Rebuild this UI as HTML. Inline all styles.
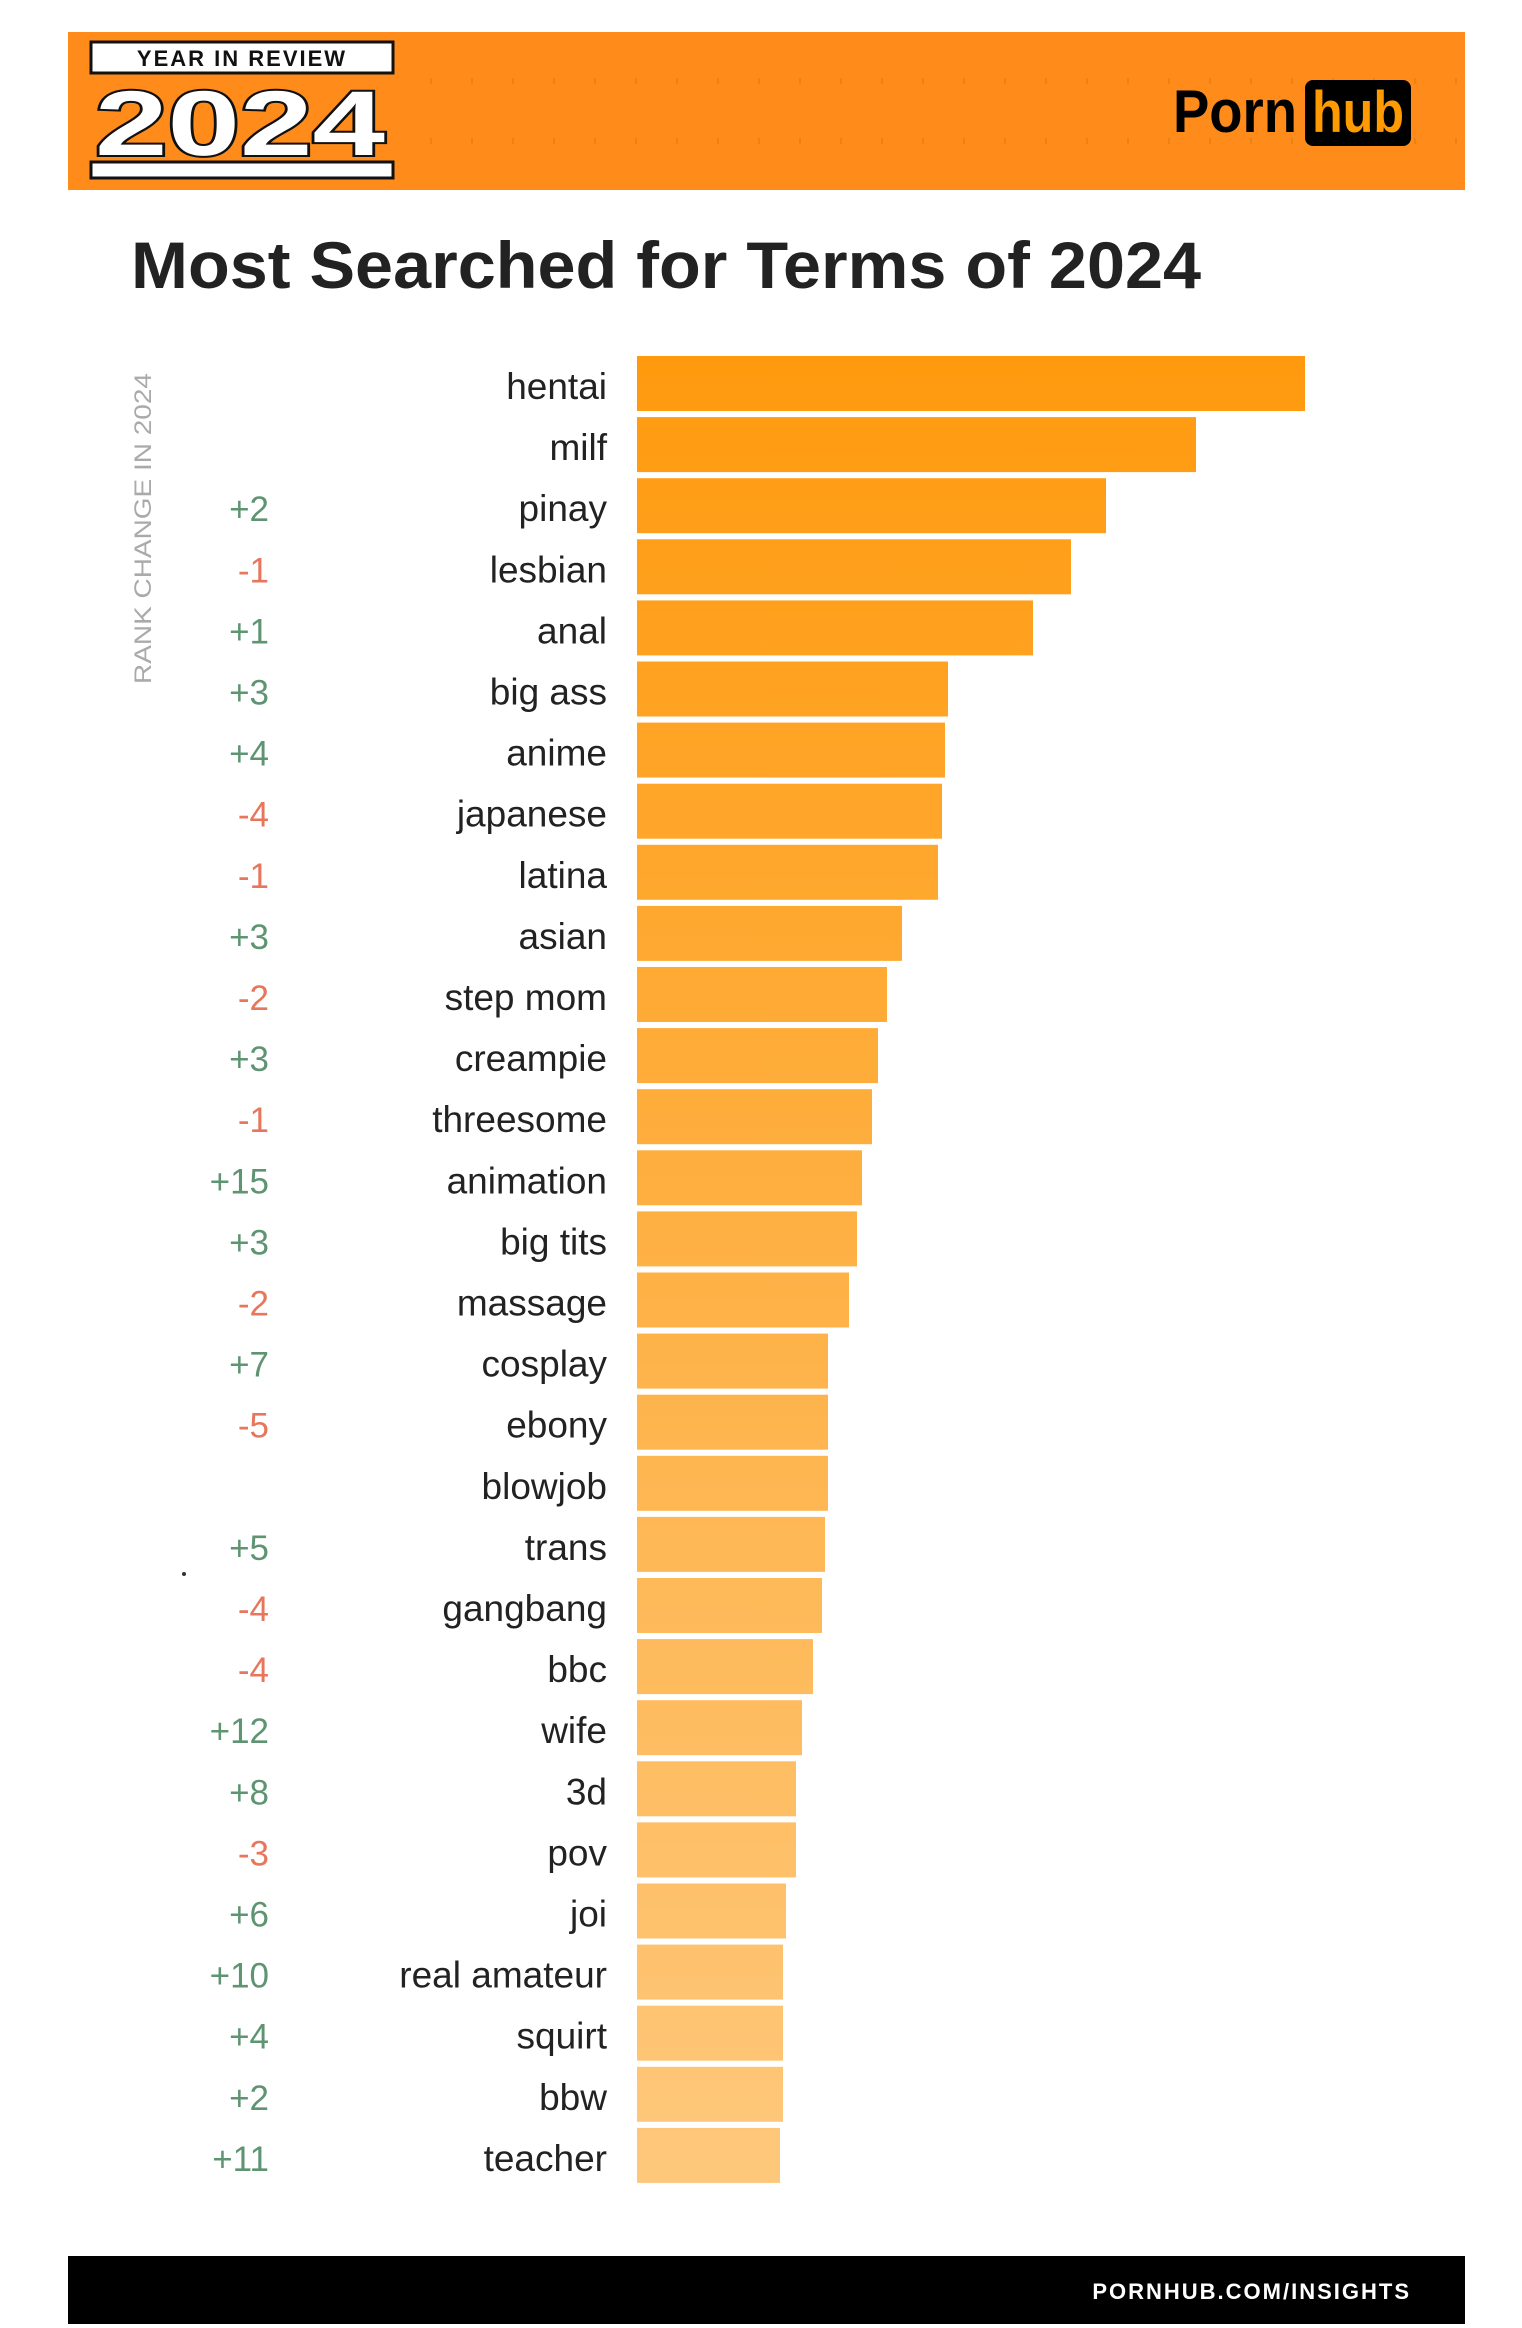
<!DOCTYPE html>
<html><head><meta charset="utf-8"><style>
html,body{margin:0;padding:0;background:#fff;}
svg{display:block;}
</style></head><body>
<svg width="1522" height="2328" viewBox="0 0 1522 2328" xmlns="http://www.w3.org/2000/svg" font-family="Liberation Sans, sans-serif">
<defs>
<linearGradient id="bg" x1="0" y1="356" x2="0" y2="2187" gradientUnits="userSpaceOnUse">
<stop offset="0" stop-color="#FF9A0E"/><stop offset="1" stop-color="#FEC87C"/>
</linearGradient>
<pattern id="dots" x="0" y="0" width="41" height="60" patternUnits="userSpaceOnUse">
<rect x="20" y="18" width="2" height="6" fill="#d9780a" opacity="0.5"/>
</pattern>
</defs>
<rect x="68" y="32" width="1397" height="158" fill="#FF8C1A"/>
<rect x="420" y="32" width="1040" height="158" fill="url(#dots)"/>
<rect x="91" y="42" width="302" height="31" fill="#fff" stroke="#111" stroke-width="3"/>
<text x="242" y="66" text-anchor="middle" font-size="22" font-weight="bold" fill="#111" letter-spacing="2">YEAR IN REVIEW</text>
<text x="240" y="155" text-anchor="middle" font-size="92" font-weight="bold" fill="#fff" stroke="#111" stroke-width="4" paint-order="stroke" textLength="290" lengthAdjust="spacingAndGlyphs">2024</text>
<rect x="91" y="162" width="302" height="16" fill="#fff" stroke="#111" stroke-width="3"/>
<text x="1173" y="132" font-size="60" font-weight="bold" fill="#000" textLength="124" lengthAdjust="spacingAndGlyphs">Porn</text>
<rect x="1305" y="80" width="106" height="66" rx="8" fill="#000"/>
<text x="1358" y="132" text-anchor="middle" font-size="58" font-weight="bold" fill="#FF9A00" textLength="92" lengthAdjust="spacingAndGlyphs">hub</text>
<text x="131" y="288" font-size="66" font-weight="bold" fill="#222" textLength="1070" lengthAdjust="spacingAndGlyphs">Most Searched for Terms of 2024</text>
<text transform="translate(151,684) rotate(-90)" font-size="24" fill="#aaa" textLength="311" lengthAdjust="spacingAndGlyphs">RANK CHANGE IN 2024</text>
<g id="rows"></g>
<rect x="68" y="2256" width="1397" height="68" fill="#000"/>
<text x="1411" y="2299" text-anchor="end" font-size="22" font-weight="bold" fill="#fff" letter-spacing="2">PORNHUB.COM/INSIGHTS</text>
<circle cx="184" cy="1574" r="2" fill="#333"/>
</svg>
<script>
var d=[["hentai",1305,""],["milf",1196,""],["pinay",1106,"+2"],["lesbian",1071,"-1"],["anal",1033,"+1"],["big ass",948,"+3"],["anime",945,"+4"],["japanese",942,"-4"],["latina",938,"-1"],["asian",902,"+3"],["step mom",887,"-2"],["creampie",878,"+3"],["threesome",872,"-1"],["animation",862,"+15"],["big tits",857,"+3"],["massage",849,"-2"],["cosplay",828,"+7"],["ebony",828,"-5"],["blowjob",828,""],["trans",825,"+5"],["gangbang",822,"-4"],["bbc",813,"-4"],["wife",802,"+12"],["3d",796,"+8"],["pov",796,"-3"],["joi",786,"+6"],["real amateur",783,"+10"],["squirt",783,"+4"],["bbw",783,"+2"],["teacher",780,"+11"]];
var ns="http://www.w3.org/2000/svg",g=document.getElementById("rows");
d.forEach(function(r,i){var y=356+i*61.1;
var b=document.createElementNS(ns,"rect");b.setAttribute("x",637);b.setAttribute("y",y);b.setAttribute("width",r[1]-637);b.setAttribute("height",55);b.setAttribute("fill","url(#bg)");g.appendChild(b);
var t=document.createElementNS(ns,"text");t.setAttribute("x",607);t.setAttribute("y",y+43);t.setAttribute("text-anchor","end");t.setAttribute("font-size","37");t.setAttribute("fill","#222");t.textContent=r[0];g.appendChild(t);
if(r[2]){var n=document.createElementNS(ns,"text");n.setAttribute("x",269);n.setAttribute("y",y+43);n.setAttribute("text-anchor","end");n.setAttribute("font-size","35");n.setAttribute("fill",r[2][0]=="+"?"#5e9472":"#e8765c");n.textContent=r[2];g.appendChild(n);}
});
</script>
</body></html>
